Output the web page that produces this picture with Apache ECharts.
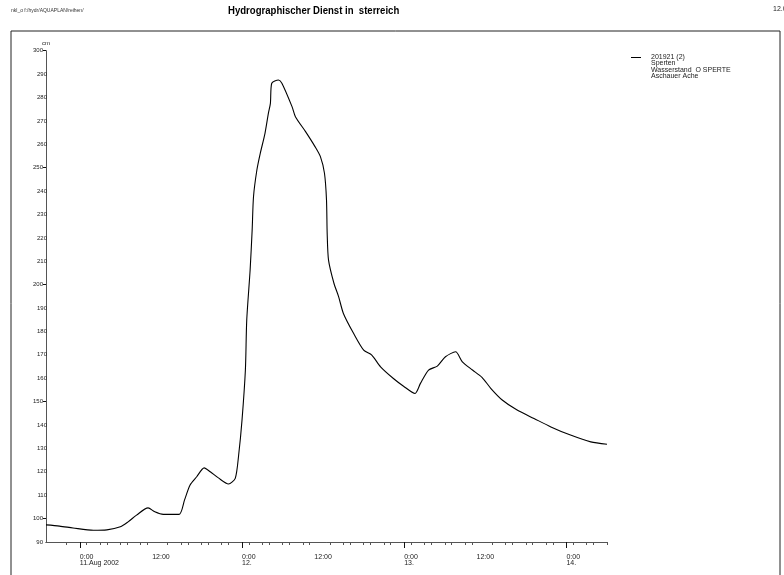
<!DOCTYPE html>
<html lang="de">
<head>
	<meta charset="UTF-8">
	<title>Hydrographischer Dienst - Sperten</title>
	<script src="https://cdn.jsdelivr.net/npm/echarts@6/dist/echarts.min.js"></script>
	<style>
		body { margin: 0; background: #fff; }
	</style>
</head>
<body>
	<div id="main" style="width: 784px; height: 575px;"></div>
	<script>
		// Stunden ab 11.08.2002 0:00 und Wasserstand in cm
		var hours = [-5, -3, -1, 2, 4, 6, 7.1, 8.4, 10.1, 11.1, 12.35, 14.7, 15.5, 16.3, 17.3, 18.4, 19.3, 20.5, 22.0, 23.0,
			23.5, 24.0, 24.5, 24.7, 25.2, 25.5, 25.7, 26.2, 26.7, 27.4, 27.9, 28.2, 28.4, 29.4, 29.9, 31.4, 31.9, 33.4,
			34.8, 35.6, 36.2, 36.5, 36.6, 36.8, 37.6, 38.3, 39.0, 40.5, 42.0, 43.2, 44.5, 46.4, 47.9, 49.6, 50.4, 51.6,
			52.9, 54.1, 55.6, 56.6, 58.1, 59.5, 60.8, 62.5, 64.7, 67.2, 69.7, 72.6, 75.6, 78]
		var level = [97.3, 96.8, 96.0, 95.0, 95.2, 96.5, 98.5, 101.5, 104.6, 102.9, 101.8, 101.8, 108, 114.3, 117.9, 121.7, 120.0, 117.4, 114.8, 117.2,
			127.1, 142.1, 163.5, 184.9, 206.3, 223.3, 237.6, 249.0, 256.1, 264.7, 273.2, 277.5, 286.1, 287.5, 286.1, 276.1, 271.8, 265.4,
			259.0, 254.7, 247.6, 236.2, 221.9, 210.5, 200.6, 194.8, 187.7, 179.2, 172.0, 169.9, 164.9, 159.9, 156.6, 153.5, 157.8, 163.5,
			165.2, 169.2, 171.3, 167.0, 163.5, 160.4, 155.7, 150.7, 146.4, 142.8, 139.2, 135.7, 132.8, 131.8]

		var dayTicks = [0, 24, 48, 72]
		var noonTicks = [12, 36, 60]
		var minorTicks = [-2, 1, 4, 7, 10, 13, 16, 19, 22, 25, 28, 31, 34, 37, 40, 43, 46, 49, 52, 55, 58, 61, 64, 67, 70, 73, 76, 3, 6, 9, 15, 18, 21, 27, 30, 33, 39, 42, 45, 51, 54, 57, 63, 66, 69, 75, 78]
		var dayLabels = ['0:00\n11.Aug 2002', '0:00\n12.', '0:00\n13.', '0:00\n14.']
		var yMajor = [100, 150, 200, 250, 300]
		var yMinor = [110, 120, 130, 140, 160, 170, 180, 190, 210, 220, 230, 240, 260, 270, 280, 290]

		var font = "'Liberation Sans Narrow', 'Arial Narrow', 'Liberation Sans', sans-serif"
		var axisColor = '#555'

		var points = []
		for (var i = 0; i < hours.length; i++) {
			points.push([hours[i], level[i]])
		}

		function baseX (extra) {
			var ax = {
				type: 'value',
				min: -5,
				max: 78,
				position: 'bottom',
				axisLine: { show: true, onZero: false, lineStyle: { color: axisColor, width: 1 } },
				splitLine: { show: false }
			}
			for (var k in extra) ax[k] = extra[k]
			return ax
		}

		var myChart = echarts.init(document.getElementById('main'))
		var option = {
			animation: false,
			textStyle: { fontFamily: font },
			grid: { left: 46, right: 177, top: 50.7, bottom: 33 },
			xAxis: [
				// kleine Striche alle 3 Stunden, 12:00 Beschriftung
				baseX({
					axisTick: { show: true, inside: false, length: 3, customValues: minorTicks, lineStyle: { color: axisColor } },
					axisLabel: {
						customValues: noonTicks, margin: 12, fontSize: 7, color: '#222', align: 'center',
						formatter: function () { return '12:00' }
					}
				}),
				// große Striche um 0:00
				baseX({
					axisTick: { show: true, length: 6, customValues: dayTicks, lineStyle: { color: '#111' } },
					axisLabel: {
						customValues: dayTicks, margin: 12, fontSize: 7, lineHeight: 6, color: '#222', align: 'left',
						formatter: function (v) { return dayLabels[dayTicks.indexOf(v)] }
					}
				})
			],
			yAxis: [
				{
					type: 'value', min: 90, max: 300, position: 'left',
					name: 'cm', nameLocation: 'end', nameGap: 4,
					nameTextStyle: { fontSize: 6, color: '#222', fontFamily: font },
					axisLine: { show: true, onZero: false, lineStyle: { color: axisColor } },
					axisTick: { show: true, length: 3, customValues: yMajor, lineStyle: { color: '#111' } },
					axisLabel: {
						customValues: [90].concat(yMajor), margin: 3, fontSize: 6, color: '#222'
					},
					splitLine: { show: false }
				},
				{
					type: 'value', min: 90, max: 300, position: 'left', offset: 0,
					axisLine: { show: false, onZero: false },
					axisTick: { show: false },
					axisLabel: { customValues: yMinor, margin: -1, fontSize: 6, color: '#222' },
					splitLine: { show: false }
				}
			],
			legend: {
				left: 631, top: 54, padding: 0,
				orient: 'vertical',
				itemWidth: 10, itemHeight: 1,
				textStyle: { fontSize: 7, color: '#222', padding: [0, 0, 0, 5] },
				data: [{ name: '201921 (2)', icon: 'rect' }]
			},
			graphic: [
				{ type: 'rect', silent: true, shape: { x: 11, y: 31, width: 769, height: 600 },
					style: { fill: 'none', stroke: '#222', lineWidth: 1 } },
				{ type: 'text', left: 11, top: 8,
					style: { text: 'nkl_o f:/hydr/AQUAPLAN/reihen/', fontSize: 5, fill: '#333', fontFamily: font } },
				{ type: 'text', x: 228, y: 5, scaleX: 0.87,
					style: { text: 'Hydrographischer Dienst in  sterreich', fontSize: 11, fontWeight: 'bold', fill: '#000', fontFamily: font } },
				{ type: 'text', left: 773, top: 6,
					style: { text: '12.08.2002', fontSize: 7, fill: '#222', fontFamily: font } },
				{ type: 'text', left: 651, top: 60,
					style: { text: 'Sperten\nWasserstand  O SPERTE\nAschauer Ache', fontSize: 7, lineHeight: 6.2, fill: '#222', fontFamily: font } }
			],
			series: [
				{
					name: '201921 (2)',
					type: 'line',
					xAxisIndex: 0,
					yAxisIndex: 0,
					data: points,
					showSymbol: false,
					smooth: 0.25,
					itemStyle: { color: '#000' },
					lineStyle: { color: '#000', width: 1.1 }
				}
			]
		}
		myChart.setOption(option)
	</script>
</body>
</html>
